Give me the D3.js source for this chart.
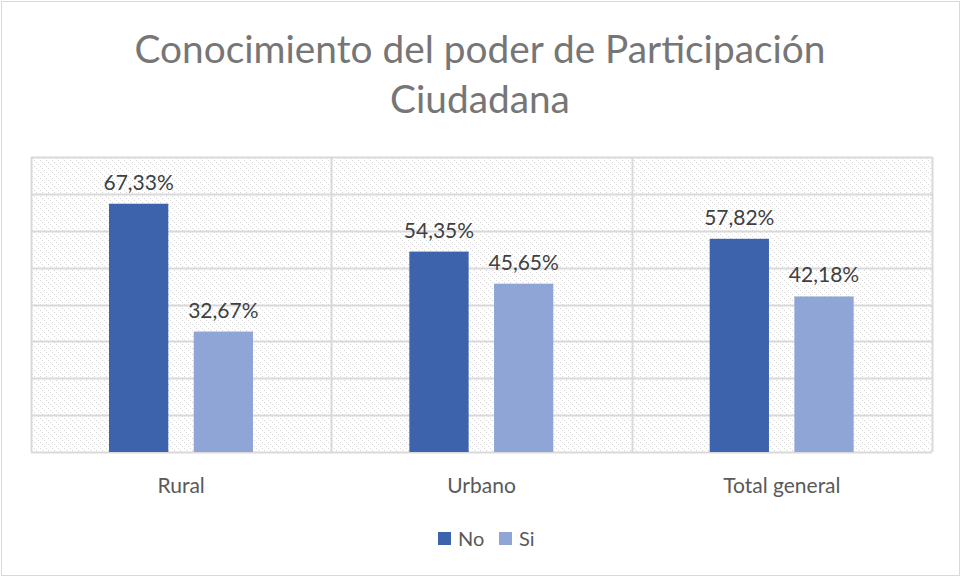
<!DOCTYPE html>
<html>
<head>
<meta charset="utf-8">
<script src="https://d3js.org/d3.v7.min.js"></script>
<style>
  body { margin: 0; background: #fff; }
  text { font-family: Lato, "Open Sans", sans-serif; }
</style>
</head>
<body>
<div id="chart"></div>
<script>
  const categories = ["Rural", "Urbano", "Total general"];
  const seriesNames = ["No", "Si"];
  const noValues = [67.33, 54.35, 57.82];
  const siValues = [32.67, 45.65, 42.18];
  const yTicks = [0, 10, 20, 30, 40, 50, 60, 70, 80];
  const colors = {No: "#3c63ac", Si: "#8fa5d5"};

  const w = 961, h = 577;
  const plot = {left: 31, right: 932, top: 157, bottom: 452};

  const svg = d3.select("#chart").append("svg")
      .attr("width", w)
      .attr("height", h);

  // hatch for the plot area
  const pat = svg.append("defs").append("pattern")
      .attr("id", "hatch")
      .attr("patternUnits", "userSpaceOnUse")
      .attr("width", 6)
      .attr("height", 6);
  pat.append("rect").attr("width", 6).attr("height", 6).attr("fill", "#fff");
  pat.append("path")
      .attr("d", "M0,0 L6,6 M-1,5 L1,7 M5,-1 L7,1")
      .attr("stroke", "#d6d6d6")
      .attr("stroke-width", 1)
      .attr("stroke-dasharray", "1.4,1.4");

  // chart border
  svg.append("rect")
      .attr("x", 1.5).attr("y", 1.5)
      .attr("width", w - 3).attr("height", h - 3)
      .attr("fill", "#fff")
      .attr("stroke", "#d9d9d9");

  // title
  const title = svg.append("text")
      .attr("text-anchor", "middle")
      .attr("fill", "#767676")
      .attr("font-size", "38.8px");
  title.append("tspan").attr("x", 480).attr("y", 63).text("Conocimiento del poder de Participación");
  title.append("tspan").attr("x", 480).attr("y", 113).text("Ciudadana");

  const x0 = d3.scaleBand()
      .domain(categories)
      .range([plot.left, plot.right]);

  const x1 = d3.scaleBand()
      .domain(seriesNames)
      .range([78, 222])
      .paddingInner(0.3);

  const y = d3.scaleLinear()
      .domain([0, 80])
      .range([plot.bottom, plot.top]);

  svg.append("rect")
      .attr("x", plot.left).attr("y", plot.top)
      .attr("width", plot.right - plot.left)
      .attr("height", plot.bottom - plot.top)
      .attr("fill", "url(#hatch)");

  // horizontal gridlines
  svg.append("g")
      .selectAll("line")
      .data(yTicks)
      .join("line")
        .attr("x1", plot.left).attr("x2", plot.right)
        .attr("y1", d => Math.round(y(d)) + 0.5)
        .attr("y2", d => Math.round(y(d)) + 0.5)
        .attr("stroke", "#d9d9d9")
        .attr("stroke-width", 2);

  // vertical separators
  const seps = [plot.left, ...categories.slice(1).map(c => x0(c)), plot.right];
  svg.append("g")
      .selectAll("line")
      .data(seps)
      .join("line")
        .attr("x1", d => Math.round(d) + 0.5).attr("x2", d => Math.round(d) + 0.5)
        .attr("y1", plot.top).attr("y2", plot.bottom)
        .attr("stroke", "#d9d9d9")
        .attr("stroke-width", 2);

  const rows = categories.map((c, i) => ({cat: c, values: [
    {key: "No", value: noValues[i]},
    {key: "Si", value: siValues[i]}
  ]}));

  const groups = svg.append("g")
      .selectAll("g")
      .data(rows)
      .join("g")
        .attr("transform", d => `translate(${x0(d.cat)},0)`);

  groups.selectAll("rect")
      .data(d => d.values)
      .join("rect")
        .attr("x", d => x1(d.key))
        .attr("y", d => y(d.value))
        .attr("width", x1.bandwidth())
        .attr("height", d => plot.bottom - y(d.value))
        .attr("fill", d => colors[d.key]);

  groups.selectAll("text")
      .data(d => d.values)
      .join("text")
        .attr("x", d => x1(d.key) + x1.bandwidth() / 2)
        .attr("y", d => y(d.value) - 14)
        .attr("text-anchor", "middle")
        .attr("fill", "#404040")
        .attr("font-size", "21px")
        .text(d => d.value.toFixed(2).replace(".", ",") + "%");

  // category labels
  svg.append("g")
      .selectAll("text")
      .data(categories)
      .join("text")
        .attr("x", d => x0(d) + x0.bandwidth() / 2)
        .attr("y", 493)
        .attr("text-anchor", "middle")
        .attr("fill", "#595959")
        .attr("font-size", "21px")
        .text(d => d);

  // legend
  const legendX = [438, 499];
  const legend = svg.append("g")
      .selectAll("g")
      .data(seriesNames)
      .join("g")
        .attr("transform", (d, i) => `translate(${legendX[i]},532)`);
  legend.append("rect")
      .attr("width", 13).attr("height", 13)
      .attr("fill", d => colors[d]);
  legend.append("text")
      .attr("x", 20).attr("y", 14)
      .attr("fill", "#595959")
      .attr("font-size", "20px")
      .text(d => d);
</script>
</body>
</html>
